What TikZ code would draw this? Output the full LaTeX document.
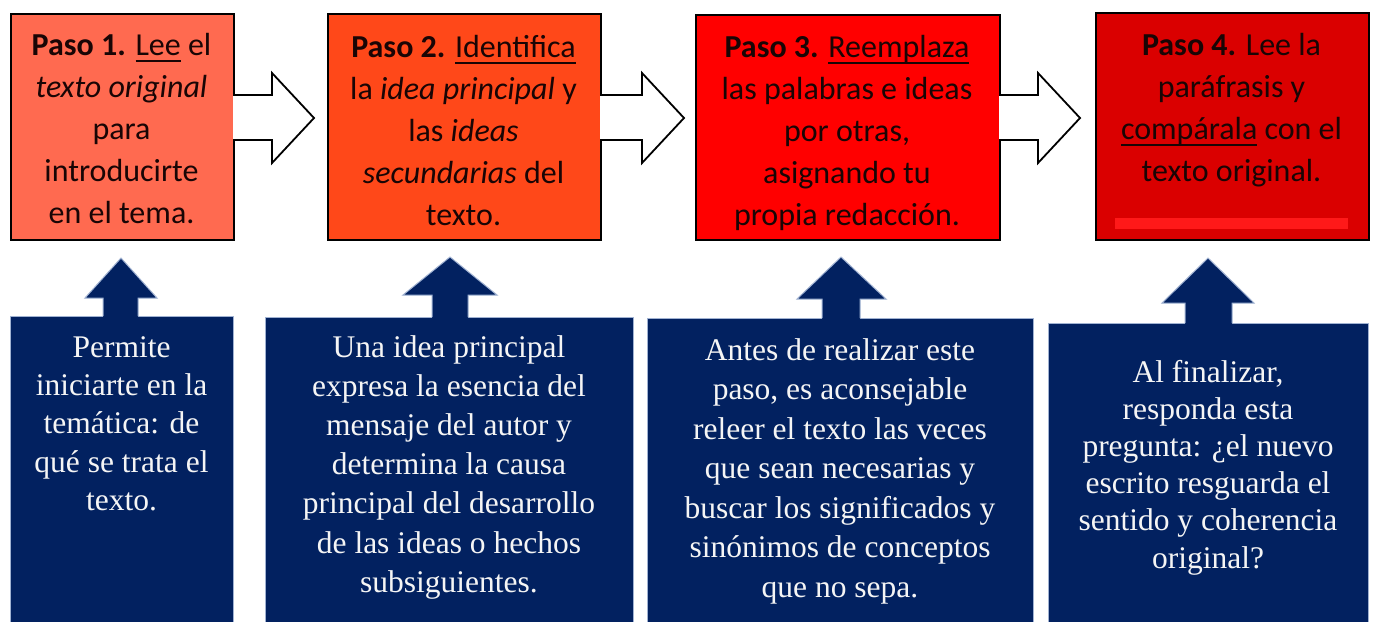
\documentclass[tikz,border=0pt]{standalone}
\usepackage{fontspec}
\setmainfont{Liberation Serif}
\newfontfamily\calibri{Carlito}
\definecolor{cA}{RGB}{255,106,80}
\definecolor{cB}{RGB}{255,72,25}
\definecolor{cC}{RGB}{255,0,0}
\definecolor{cD}{RGB}{218,0,0}
\definecolor{cBar}{RGB}{255,25,25}
\definecolor{navy}{RGB}{2,33,96}
\definecolor{navyedge}{RGB}{160,178,210}
\definecolor{toptxt}{RGB}{25,5,5}
\definecolor{bottxt}{RGB}{245,245,245}
\newcommand\myul[1]{\leavevmode{\setbox0=\hbox{#1}\rlap{\rule[-3.6pt]{\wd0}{0.9pt}}\box0\relax}}
\newcommand\toplines[1]{\parbox[t]{150pt}{\centering\calibri\fontsize{16pt}{21pt}\selectfont #1}}
\newcommand\botlines[2]{\parbox[t]{200pt}{\centering\fontsize{15.75pt}{#1}\selectfont #2}}
\begin{document}
\begin{tikzpicture}[x=0.5pt,y=-0.5pt,
  stepbox/.style={draw=black, line width=1pt, inner sep=0, anchor=north west},
  notebox/.style={fill=navy, draw=navyedge, line width=0.5pt, inner sep=0, anchor=north west},
  toptext/.style={inner sep=0, anchor=base, text=toptxt},
  bottext/.style={inner sep=0, anchor=base, text=bottxt},
  flowarrow/.style={draw=black, line width=0.9pt, fill=white, line join=miter},
  upedge/.style={draw=navyedge, line width=0.5pt, line join=miter}]
\clip (0,0) rectangle (1374,621);
\fill[white] (0,0) rectangle (1374,621);
% top step boxes
\node[stepbox, fill=cA, minimum width=111.5pt, minimum height=113pt] (s1) at (10,13) {};
\node[stepbox, fill=cB, minimum width=136.5pt, minimum height=113pt] (s2) at (327,13) {};
\node[stepbox, fill=cC, minimum width=152pt, minimum height=112.5pt] (s3) at (695,14) {};
\node[stepbox, fill=cD, minimum width=136.5pt, minimum height=113.5pt] (s4) at (1095,12) {};
\fill[cBar] (1115,218) rectangle (1348,229);
% right block arrows
\filldraw[flowarrow] (233,95) -- (272,95) -- (272,73) -- (314,118) -- (272,163) -- (272,140) -- (233,140);
\filldraw[flowarrow] (600,95) -- (642,95) -- (642,73) -- (684,118) -- (642,163) -- (642,140) -- (600,140);
\filldraw[flowarrow] (999,95) -- (1038,95) -- (1038,73) -- (1080,118) -- (1038,163) -- (1038,140) -- (999,140);
% top texts
\node[toptext] (t1) at (121.5,55) {\toplines{\textbf{Paso 1.} \myul{Lee} el\\ \textit{texto original}\\ para\\ introducirte\\ en el tema.}};
\node[toptext] (t2) at (463.5,57) {\toplines{\textbf{Paso 2.} \myul{Identifica}\\ la \textit{idea principal} y\\ las \textit{ideas}\\ \textit{secundarias} del\\ texto.}};
\node[toptext] (t3) at (847,57) {\toplines{\textbf{Paso 3.} \myul{Reemplaza}\\ las palabras e ideas\\ por otras,\\ asignando tu\\ propia redacción.}};
\node[toptext] (t4) at (1231.5,55) {\toplines{\textbf{Paso 4.} Lee la\\ paráfrasis y\\ \myul{compárala} con el\\ texto original.}};
% bottom note boxes
\node[notebox, minimum width=111.5pt, minimum height=160pt] (n1) at (10,316) {};
\node[notebox, minimum width=184pt, minimum height=160pt] (n2) at (265,317) {};
\node[notebox, minimum width=193pt, minimum height=160pt] (n3) at (647,318) {};
\node[notebox, minimum width=160pt, minimum height=160pt] (n4) at (1048,323) {};
% up arrows
\fill[navy] (103,319) -- (103,298) -- (85,298) -- (121,258) -- (157,298) -- (138,298) -- (138,319) -- cycle;
\draw[upedge] (103,316) -- (103,298) -- (85,298) -- (121,258) -- (157,298) -- (138,298) -- (138,316);
\fill[navy] (432,320) -- (432,295) -- (403,295) -- (450,257) -- (497,295) -- (468,295) -- (468,320) -- cycle;
\draw[upedge] (432,317) -- (432,295) -- (403,295) -- (450,257) -- (497,295) -- (468,295) -- (468,317);
\fill[navy] (822,321) -- (822,299) -- (797,299) -- (841,257) -- (886,299) -- (860,299) -- (860,321) -- cycle;
\draw[upedge] (822,318) -- (822,299) -- (797,299) -- (841,257) -- (886,299) -- (860,299) -- (860,318);
\fill[navy] (1185,326) -- (1185,303) -- (1162,303) -- (1208,258) -- (1254,303) -- (1232,303) -- (1232,326) -- cycle;
\draw[upedge] (1185,323) -- (1185,303) -- (1162,303) -- (1208,258) -- (1254,303) -- (1232,303) -- (1232,323);
% bottom texts
\node[bottext] (b1) at (121.5,357) {\botlines{19.2pt}{Permite\\ iniciarte en la\\ temática: de\\ qué se trata el\\ texto.}};
\node[bottext] (b2) at (449,357) {\botlines{19.6pt}{Una idea principal\\ expresa la esencia del\\ mensaje del autor y\\ determina la causa\\ principal del desarrollo\\ de las ideas o hechos\\ subsiguientes.}};
\node[bottext] (b3) at (840,360) {\botlines{19.75pt}{Antes de realizar este\\ paso, es aconsejable\\ releer el texto las veces\\ que sean necesarias y\\ buscar los significados y\\ sinónimos de conceptos\\ que no sepa.}};
\node[bottext] (b4) at (1208,382) {\botlines{18.6pt}{Al finalizar,\\ responda esta\\ pregunta: ¿el nuevo\\ escrito resguarda el\\ sentido y coherencia\\ original?}};
\end{tikzpicture}
\end{document}
